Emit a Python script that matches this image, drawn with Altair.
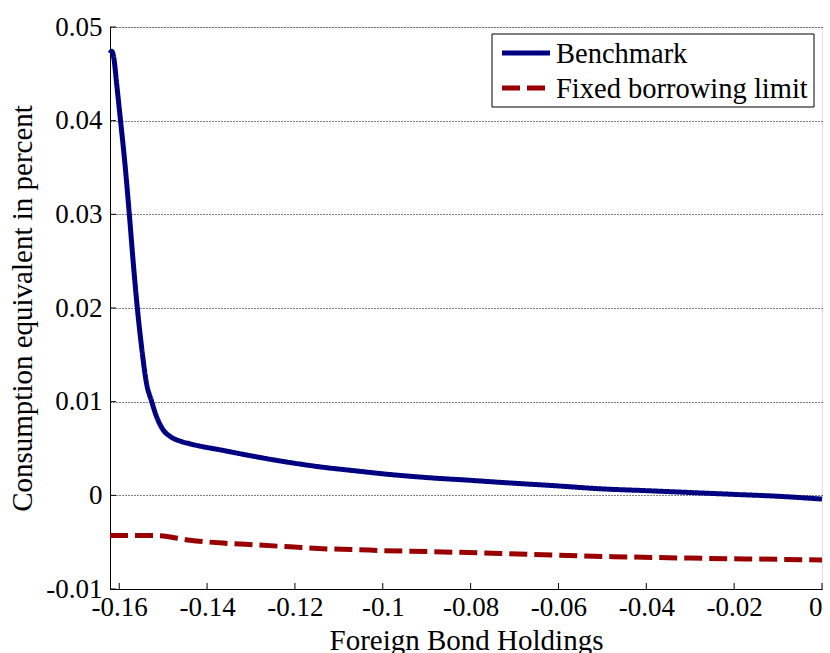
import altair as alt
import pandas as pd

series_names = ["Benchmark", "Fixed borrowing limit"]

bench_x = [-0.1621, -0.1617, -0.1612, -0.1606, -0.1597, -0.1587, -0.1577, -0.1568, -0.1559,
           -0.1549, -0.1538, -0.1526, -0.1515, -0.1500, -0.1481, -0.1462, -0.1439,
           -0.1364, -0.1286, -0.1211, -0.1136, -0.1059, -0.1000, -0.0900, -0.0800,
           -0.0737, -0.0600, -0.0505, -0.0400, -0.0300, -0.0200, -0.0100, 0.0]
bench_y = [0.0472, 0.0474, 0.0466, 0.0440, 0.0400, 0.0354, 0.0300, 0.0248, 0.0201,
           0.0158, 0.0120, 0.0100, 0.0084, 0.0070, 0.0062, 0.0058, 0.0055,
           0.0048, 0.0041, 0.0035, 0.0030, 0.0026, 0.0023, 0.0019, 0.0016,
           0.0014, 0.0010, 0.0007, 0.0005, 0.0003, 0.0001, -0.0001, -0.0004]

fixed_x = [-0.1621, -0.1514, -0.1439, -0.1364, -0.1286, -0.1211, -0.1136, -0.1059,
           -0.1000, -0.0900, -0.0733, -0.0600, -0.0475, -0.0300, -0.0150, 0.0]
fixed_y = [-0.0043, -0.0043, -0.0048, -0.0051, -0.0053, -0.0055, -0.0057, -0.0058,
           -0.0059, -0.0060, -0.0062, -0.0064, -0.00655, -0.0067, -0.0068, -0.0069]

x_ticks = [-0.16, -0.14, -0.12, -0.10, -0.08, -0.06, -0.04, -0.02, 0.0]
y_ticks = [-0.01, 0.0, 0.01, 0.02, 0.03, 0.04, 0.05]

df = pd.concat([
    pd.DataFrame({"x": bench_x, "y": bench_y, "series": series_names[0], "order": range(len(bench_x))}),
    pd.DataFrame({"x": fixed_x, "y": fixed_y, "series": series_names[1], "order": range(len(fixed_x))}),
])

FONT = "Liberation Serif"
W, H = 712, 562
TICK_FS = 27
TITLE_FS = 29
LEG_FS = 28.5

xscale = alt.Scale(domain=[-0.1621, 0.0], nice=False, zero=False)
yscale = alt.Scale(domain=[-0.01, 0.05], nice=False, zero=False)
color_scale = alt.Scale(domain=series_names, range=["#000080", "#990000"])
dash_scale = alt.Scale(domain=series_names, range=[[1, 0], [18, 7]])

lines = alt.Chart(df).mark_line(strokeWidth=5, interpolate="monotone").encode(
    x=alt.X("x:Q", scale=xscale, axis=alt.Axis(
        values=x_ticks, title="Foreign Bond Holdings", grid=False, ticks=False,
        labelExpr="toString(datum.value)", labelFont=FONT, labelFontSize=TICK_FS,
        labelColor="black", labelPadding=5, domainColor="black", domainWidth=1,
        titleFont=FONT, titleFontSize=TITLE_FS, titleFontWeight="normal", titleColor="black",
        titleX=W / 2, titleY=60, titleBaseline="alphabetic", titleAnchor="middle")),
    y=alt.Y("y:Q", scale=yscale, axis=alt.Axis(
        values=y_ticks, title="Consumption equivalent in percent", grid=True,
        gridDash=[1, 2], gridColor="black", gridWidth=1, gridOpacity=1, ticks=False,
        labelExpr="toString(datum.value)", labelFont=FONT, labelFontSize=TICK_FS,
        labelColor="black", labelPadding=8, domainColor="black", domainWidth=1,
        titleFont=FONT, titleFontSize=TITLE_FS, titleFontWeight="normal", titleColor="black",
        titleX=-88, titleY=H / 2, titleAngle=-90, titleBaseline="middle",
        titleAnchor="middle")),
    color=alt.Color("series:N", scale=color_scale, legend=None),
    strokeDash=alt.StrokeDash("series:N", scale=dash_scale, legend=None),
    order="order:Q",
)

xtick_df = pd.DataFrame({"t": x_ticks})
ytick_df = pd.DataFrame({"t": y_ticks})

xt = alt.Chart(xtick_df).mark_rule(color="black", strokeWidth=1).encode(
    x=alt.X("t:Q", scale=xscale), y=alt.value(H), y2=alt.value(H - 6))
yt = alt.Chart(ytick_df).mark_rule(color="black", strokeWidth=1).encode(
    y=alt.Y("t:Q", scale=yscale), x=alt.value(0), x2=alt.value(6))

# manual legend
legend_box = alt.Chart(pd.DataFrame({"a": [0]})).mark_rect(
    fill="white", stroke="black", strokeWidth=1).encode(
    x=alt.value(382), x2=alt.value(704), y=alt.value(7), y2=alt.value(80))

legend_layers = [legend_box]
for i, name in enumerate(series_names):
    sub = pd.DataFrame({"series": [name]})
    legend_layers.append(
        alt.Chart(sub).mark_rule(strokeWidth=5).encode(
            x=alt.value(392), x2=alt.value(440 - 4 * i), y=alt.value(26 + 35 * i),
            color=alt.Color("series:N", scale=color_scale, legend=None),
            strokeDash=alt.StrokeDash("series:N", scale=dash_scale, legend=None)))
    legend_layers.append(
        alt.Chart(sub).mark_text(align="left", baseline="alphabetic", font=FONT,
                                 fontSize=LEG_FS, color="black").encode(
            x=alt.value(446), y=alt.value(36 + 35 * i), text="series:N"))

chart = alt.layer(lines, xt, yt, *legend_layers).properties(
    width=W, height=H,
    autosize=alt.AutoSizeParams(type="none"),
    padding={"left": 110, "top": 27, "right": 8, "bottom": 64},
).configure_view(stroke=None).configure(background="white")

chart.save("out.html", embed_options={"renderer": "svg", "actions": False})
